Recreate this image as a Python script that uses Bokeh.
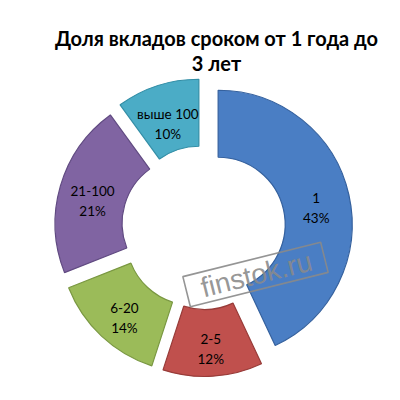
import numpy as np
from bokeh.plotting import figure
from bokeh.models import Range1d, Label
from bokeh.embed import file_html
from bokeh.resources import INLINE
from bokeh.core.properties import value

# ---- data ----
categories = ["1", "2-5", "6-20", "21-100", "выше 100"]
shares = [43, 12, 14, 21, 10]
pct_labels = ["43%", "12%", "14%", "21%", "10%"]
title_lines = ["Доля вкладов сроком от 1 года до", "3 лет"]
watermark_text = "finstok.ru"

# ---- style ----
colors = ["#4A7EC4", "#C0504D", "#9BBB59", "#8064A2", "#4BACC6"]
edge_colors = ["#35619E", "#983C39", "#7A9842", "#614B82", "#338EA6"]

W = H = 384
p = figure(width=W, height=H, x_range=Range1d(8, 392), y_range=Range1d(8, 392),
           output_backend="svg", toolbar_location=None, min_border=0)
p.axis.visible = False
p.grid.visible = False
p.outline_line_color = None
p.background_fill_color = "white"

cx, cy = 211, 165
R, r, explode = 134, 67, 15

vals = np.array(shares, dtype=float)
cum = np.concatenate([[0], np.cumsum(vals)]) / vals.sum() * 2 * np.pi
t1, t2 = cum[:-1], cum[1:]
mid = (t1 + t2) / 2
xs = cx + explode * np.sin(mid)
ys = cy + explode * np.cos(mid)

p.annular_wedge(x=xs, y=ys, inner_radius=r, outer_radius=R,
                start_angle=np.pi / 2 - t2, end_angle=np.pi / 2 - t1,
                fill_color=colors, line_color=edge_colors, line_width=1.2)

lr = (R + r) / 2
lx = xs + lr * np.sin(mid)
ly = ys + lr * np.cos(mid) - 6
p.text(x=lx, y=ly + 10, text=categories, text_align="center", text_baseline="middle",
       text_font=value("Lato"), text_font_size="13.5px", text_color="black")
p.text(x=lx, y=ly - 10, text=pct_labels, text_align="center", text_baseline="middle",
       text_font=value("Lato"), text_font_size="13.5px", text_color="black")

# title
for line, yy in zip(title_lines, [355, 330]):
    p.add_layout(Label(x=224, y=yy, text=line, text_align="center", text_baseline="alphabetic",
                       text_font="Lato", text_font_style="bold", text_font_size="20px",
                       text_color="black"))

# watermark
ang = np.deg2rad(14)
p.rect(x=[263], y=[118], width=142, height=31, angle=ang, fill_alpha=0,
       line_color="#8a8a8a", line_width=1.6, line_alpha=0.9)
p.text(x=[264], y=[118], text=[watermark_text], angle=ang, text_align="center",
       text_baseline="middle", text_font=value("Liberation Sans"), text_font_size="28px",
       text_color="#8a8a8a", text_alpha=0.9)

open("out.html", "w").write(file_html(p, INLINE))
